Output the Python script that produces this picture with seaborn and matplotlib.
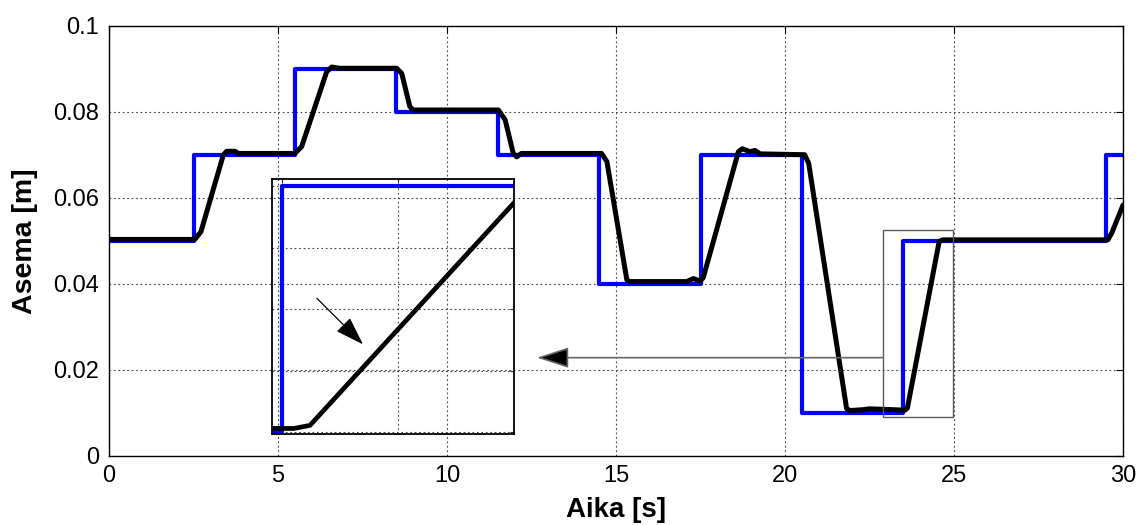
import matplotlib
matplotlib.use("Agg")
import matplotlib.pyplot as plt
import seaborn as sns
from matplotlib.patches import Rectangle
from matplotlib.ticker import MultipleLocator

# Reference position (step changes), time [s] and position [m]
ref_time = [0.0, 2.5, 5.5, 8.5, 11.5, 14.5, 17.5, 20.5, 23.5, 29.5, 30.0]
ref_pos = [0.05, 0.07, 0.09, 0.08, 0.07, 0.04, 0.07, 0.01, 0.05, 0.07, 0.07]

# Measured position of the actuator
meas_time = [0.0, 2.54, 2.72, 3.38, 3.48, 3.73, 3.82, 5.50, 5.70, 6.44, 6.59,
             6.83, 8.51, 8.66, 8.90, 9.00, 11.52, 11.72, 11.96, 12.06, 12.20,
             14.57, 14.73, 15.32, 15.41, 17.09, 17.29, 17.49, 17.58, 18.62,
             18.74, 18.96, 19.11, 19.26, 20.58, 20.70, 21.82, 21.92, 22.30,
             22.50, 23.55, 23.62, 24.56, 24.66, 29.55, 29.66, 30.0]
meas_pos = [0.0503, 0.0503, 0.0521, 0.0699, 0.0708, 0.0708, 0.0703, 0.0703,
            0.0719, 0.0893, 0.0904, 0.0901, 0.0901, 0.0889, 0.0812, 0.0804,
            0.0804, 0.0781, 0.0703, 0.0695, 0.0703, 0.0703, 0.0684, 0.0409,
            0.0405, 0.0405, 0.0412, 0.0406, 0.0414, 0.0707, 0.0714, 0.0707,
            0.0710, 0.0702, 0.0700, 0.0680, 0.0110, 0.0105, 0.0107, 0.0109,
            0.0106, 0.0111, 0.0498, 0.0502, 0.0502, 0.0517, 0.0583]

x_ticks = [0, 5, 10, 15, 20, 25, 30]
y_ticks = [0.0, 0.02, 0.04, 0.06, 0.08, 0.1]
y_tick_labels = ["0", "0.02", "0.04", "0.06", "0.08", "0.1"]

# Magnified region and the limits of the magnified view
zoom_t = (22.91, 24.98)
zoom_v = (0.0091, 0.0525)
inset_t = (23.455, 24.50)
inset_v = (0.0097, 0.0513)

sns.set_style("white")
plt.rcParams["font.family"] = ["Liberation Sans", "DejaVu Sans"]
plt.rcParams["text.color"] = "black"
plt.rcParams["axes.labelcolor"] = "black"

BLUE = "#0000ff"
grid_kw = dict(color="0.25", linestyle=(0, (1.5, 2.5)), linewidth=0.8)

fig = plt.figure(figsize=(11.39, 5.25), dpi=100)
ax = fig.add_axes([0.0957, 0.132, 0.8903, 0.819])

sns.lineplot(x=ref_time, y=ref_pos, ax=ax, color=BLUE, linewidth=3.0,
             drawstyle="steps-post", estimator=None, sort=False)
sns.lineplot(x=meas_time, y=meas_pos, ax=ax, color="black", linewidth=3.6,
             estimator=None, sort=False, solid_joinstyle="round",
             solid_capstyle="round")

ax.set_xlim(0, 30)
ax.set_ylim(0, 0.1)
ax.set_xticks(x_ticks)
ax.set_xticklabels([str(t) for t in x_ticks])
ax.set_yticks(y_ticks)
ax.set_yticklabels(y_tick_labels)
ax.grid(True, **grid_kw)
ax.tick_params(direction="in", length=5, width=0.8, top=True, right=True,
               labelsize=17, pad=7, colors="black")
for sp in ax.spines.values():
    sp.set_visible(True)
    sp.set_color("black")
    sp.set_linewidth(1.0)
ax.set_xlabel("Aika [s]", fontsize=20, fontweight="bold", labelpad=7)
ax.set_ylabel("Asema [m]", fontsize=20.5, fontweight="bold", labelpad=11)

# Frame around the magnified region
ax.add_patch(Rectangle((zoom_t[0], zoom_v[0]), zoom_t[1] - zoom_t[0],
                       zoom_v[1] - zoom_v[0], fill=False,
                       edgecolor="0.35", linewidth=1.0, zorder=5))

# Arrow from the magnified region to the enlarged view
ax.annotate("", xy=(12.66, 0.0228), xytext=(zoom_t[0], 0.0228),
            arrowprops=dict(arrowstyle="-|>,head_length=20,head_width=6.5",
                            mutation_scale=1, shrinkA=0, shrinkB=0,
                            edgecolor="0.4", facecolor="black",
                            linewidth=1.2),
            zorder=6)

# Enlarged view
axi = fig.add_axes([0.2385, 0.1733, 0.2127, 0.4867])
axi.patch.set_alpha(0.0)
sns.lineplot(x=ref_time, y=ref_pos, ax=axi, color=BLUE, linewidth=3.0,
             drawstyle="steps-post", estimator=None, sort=False)
sns.lineplot(x=meas_time, y=meas_pos, ax=axi, color="black", linewidth=3.4,
             estimator=None, sort=False, solid_joinstyle="round")
axi.set_xlim(*inset_t)
axi.set_ylim(*inset_v)
axi.xaxis.set_major_locator(MultipleLocator(0.5))
axi.yaxis.set_major_locator(MultipleLocator(0.01))
axi.grid(True, **grid_kw)
axi.tick_params(direction="in", length=3, width=0.8, top=True, right=True,
                labelbottom=False, labelleft=False)
axi.set_xlabel("")
axi.set_ylabel("")
for sp in axi.spines.values():
    sp.set_visible(True)
    sp.set_color("black")
    sp.set_linewidth(1.3)

axi.annotate("", xy=(23.849, 0.0243), xytext=(23.65, 0.0318),
             arrowprops=dict(arrowstyle="-|>,head_length=18,head_width=6",
                             mutation_scale=1, shrinkA=0, shrinkB=0,
                             color="black", linewidth=0.9))

fig.savefig("out.png", dpi=100)
